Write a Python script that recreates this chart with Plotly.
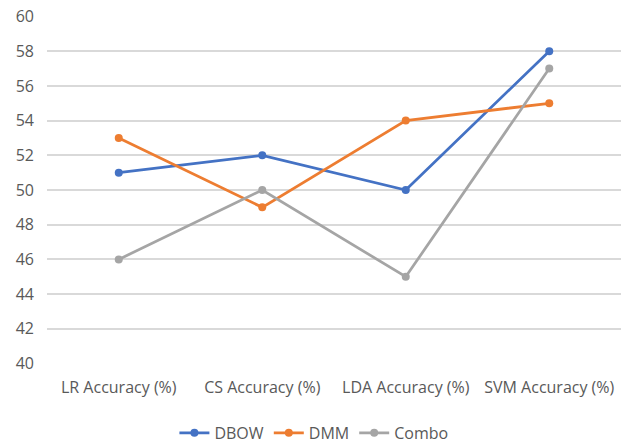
import plotly.graph_objects as go

categories = ["LR Accuracy (%)", "CS Accuracy (%)", "LDA Accuracy (%)", "SVM Accuracy (%)"]
dbow = [51, 52, 50, 58]
dmm = [53, 49, 54, 55]
combo = [46, 50, 45, 57]

series = [("DBOW", dbow, "#4472C4"), ("DMM", dmm, "#ED7D31"), ("Combo", combo, "#A5A5A5")]

fig = go.Figure()
for name, vals, color in series:
    fig.add_trace(go.Scatter(
        x=categories, y=vals, name=name, mode="lines+markers",
        line=dict(color=color, width=2.75),
        marker=dict(color=color, size=8),
    ))

font_family = "Open Sans, Liberation Sans, sans-serif"
fig.update_layout(
    width=621, height=445,
    margin=dict(l=47, r=0, t=16, b=81, autoexpand=False),
    paper_bgcolor="white", plot_bgcolor="white",
    font=dict(family=font_family, size=16, color="#595959"),
    showlegend=True,
    legend=dict(orientation="h", x=0.465, xanchor="center", y=-0.198, yanchor="middle",
                font=dict(size=16, color="#595959"), itemwidth=30, tracegroupgap=0),
    xaxis=dict(type="category", range=[-0.5, 3.5], showgrid=False, showline=False,
               zeroline=False, ticks="", ticklabelstandoff=12,
               tickfont=dict(size=16, color="#595959")),
    yaxis=dict(range=[39.97, 60.03], tickvals=list(range(40, 61, 2)), showgrid=True,
               gridcolor="#D9D9D9", gridwidth=1.5, zeroline=False, showline=False,
               ticks="", ticklabelstandoff=12, tickfont=dict(size=16, color="#595959")),
)

fig.write_html("out.html")
